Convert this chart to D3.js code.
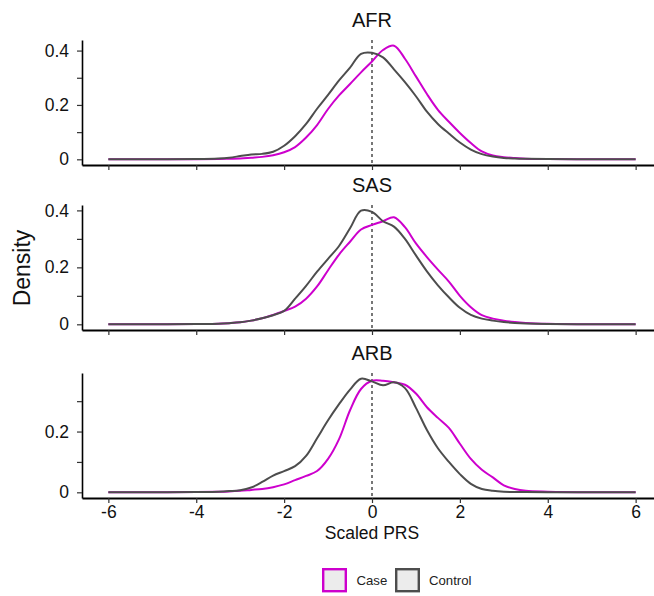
<!DOCTYPE html>
<html>
<head>
<meta charset="utf-8">
<script src="https://cdn.jsdelivr.net/npm/d3@7"></script>
<style>
  body { margin: 0; background: #ffffff; }
  svg { display: block; }
</style>
</head>
<body>
<svg id="chart" width="654" height="596"></svg>
<script>
// Shared evaluation grid for the density curves (scaled PRS)
const xGrid = [-6, -5, -4, -3.5, -3.25, -3, -2.75, -2.5, -2.25, -2, -1.75, -1.5, -1.25, -1,
  -0.75, -0.5, -0.25, 0, 0.25, 0.5, 0.75, 1, 1.25, 1.5, 1.75, 2, 2.25, 2.5, 2.75, 3,
  3.25, 3.5, 4, 5, 6];

// Density estimates per ancestry group
const afrCase = [0, 0, 0, 0.001, 0.002, 0.003, 0.006, 0.009, 0.015, 0.026, 0.045, 0.08, 0.126, 0.185,
  0.235, 0.277, 0.32, 0.36, 0.402, 0.418, 0.37, 0.305, 0.24, 0.182, 0.138, 0.097,
  0.06, 0.029, 0.014, 0.008, 0.005, 0.002, 0.001, 0, 0];
const afrControl = [0, 0, 0.001, 0.003, 0.006, 0.012, 0.018, 0.02, 0.028, 0.05, 0.085, 0.13, 0.186,
  0.237, 0.29, 0.337, 0.388, 0.392, 0.375, 0.331, 0.284, 0.232, 0.175, 0.13, 0.095,
  0.062, 0.036, 0.019, 0.01, 0.005, 0.003, 0.002, 0.001, 0, 0];

const sasCase = [0, 0, 0.001, 0.002, 0.004, 0.007, 0.013, 0.021, 0.033, 0.047, 0.062, 0.09, 0.133,
  0.19, 0.245, 0.29, 0.333, 0.349, 0.362, 0.376, 0.341, 0.284, 0.236, 0.192, 0.15,
  0.1, 0.06, 0.032, 0.02, 0.013, 0.008, 0.005, 0.002, 0, 0];
const sasControl = [0, 0, 0.001, 0.002, 0.004, 0.007, 0.013, 0.021, 0.032, 0.047, 0.09, 0.135, 0.185,
  0.23, 0.275, 0.337, 0.399, 0.395, 0.362, 0.343, 0.3, 0.242, 0.186, 0.137, 0.095,
  0.058, 0.033, 0.02, 0.013, 0.008, 0.005, 0.003, 0.001, 0, 0];

const arbCase = [0, 0, 0.001, 0.002, 0.003, 0.005, 0.008, 0.011, 0.017, 0.026, 0.04, 0.054, 0.07,
  0.11, 0.175, 0.27, 0.34, 0.367, 0.367, 0.362, 0.354, 0.325, 0.28, 0.245, 0.212,
  0.16, 0.11, 0.074, 0.049, 0.023, 0.011, 0.005, 0.002, 0, 0];
const arbControl = [0, 0, 0.001, 0.002, 0.004, 0.007, 0.016, 0.034, 0.055, 0.07, 0.086, 0.12, 0.178,
  0.237, 0.29, 0.338, 0.374, 0.365, 0.352, 0.362, 0.343, 0.278, 0.205, 0.145, 0.1,
  0.06, 0.028, 0.011, 0.005, 0.002, 0.001, 0.001, 0, 0, 0];

const panelNames = ["AFR", "SAS", "ARB"];
const seriesNames = ["Case", "Control"];
const xTicks = [-6, -4, -2, 0, 2, 4, 6];
const yTickSteps = [0, 0.1, 0.2, 0.3, 0.4];

const panelData = [
  { name: panelNames[0], case: afrCase, control: afrControl },
  { name: panelNames[1], case: sasCase, control: sasControl },
  { name: panelNames[2], case: arbCase, control: arbControl }
];

const colors = { Case: "#cd00cd", Control: "#4d4d4d" };
const FONT = "'Liberation Sans', Arial, Helvetica, sans-serif";

const svg = d3.select("#chart");
const x = d3.scaleLinear().domain([-6.6, 6.6]).range([82, 662]);
const panelTop = [40, 205, 373];
const panelH = 125;

panelData.forEach((p, i) => {
  const top = panelTop[i];
  const bottom = top + panelH;
  const M = d3.max(p.case.concat(p.control));
  const y = d3.scaleLinear().domain([-0.05 * M, 1.05 * M]).range([bottom, top]);
  const g = svg.append("g");

  // strip title
  g.append("text")
    .attr("x", (x.range()[0] + x.range()[1]) / 2)
    .attr("y", top - 20.5)
    .attr("text-anchor", "middle")
    .attr("dominant-baseline", "central")
    .attr("font-family", FONT)
    .attr("font-size", 20)
    .attr("fill", "#111")
    .text(p.name);

  // reference line at zero
  g.append("line")
    .attr("x1", x(0)).attr("x2", x(0))
    .attr("y1", top).attr("y2", bottom)
    .attr("stroke", "#555")
    .attr("stroke-width", 1.6)
    .attr("stroke-dasharray", "3,3");

  const line = d3.line()
    .x((d, j) => x(xGrid[j]))
    .y(d => y(d))
    .curve(d3.curveCatmullRom.alpha(0.5));

  g.append("path")
    .attr("d", line(p.case))
    .attr("fill", "none")
    .attr("stroke", colors.Case)
    .attr("stroke-width", 2);

  g.append("path")
    .attr("d", line(p.control))
    .attr("fill", "none")
    .attr("stroke", colors.Control)
    .attr("stroke-width", 2);

  // y axis
  const yTicks = yTickSteps.filter(t => t <= 1.05 * M);
  const yAxis = g.append("g")
    .attr("transform", "translate(82,0)")
    .call(d3.axisLeft(y)
      .tickValues(yTicks)
      .tickSize(5)
      .tickSizeOuter(0)
      .tickPadding(8)
      .tickFormat(t => (Math.round(t * 10) % 2 === 0) ? (t === 0 ? "0" : d3.format(".1f")(t)) : ""));
  yAxis.attr("font-family", FONT).attr("font-size", 17.5);
  yAxis.select(".domain").attr("stroke", "#000").attr("stroke-width", 1.6);
  yAxis.selectAll(".tick line").attr("stroke", "#333").attr("stroke-width", 1.2);
  yAxis.selectAll(".tick text").attr("fill", "#111");

  // x axis
  const isLast = i === panelData.length - 1;
  const xAxis = g.append("g")
    .attr("transform", `translate(0,${bottom})`)
    .call(d3.axisBottom(x)
      .tickValues(xTicks)
      .tickSize(5)
      .tickSizeOuter(0)
      .tickPadding(3)
      .tickFormat(t => isLast ? d3.format("d")(t).replace("\u2212", "-") : ""));
  xAxis.attr("font-family", FONT).attr("font-size", 17.5);
  xAxis.select(".domain").attr("stroke", "#000").attr("stroke-width", 2);
  xAxis.selectAll(".tick line").attr("stroke", "#333").attr("stroke-width", 1.2);
  xAxis.selectAll(".tick text").attr("fill", "#111");
});

// axis titles
svg.append("text")
  .attr("x", 372).attr("y", 533)
  .attr("text-anchor", "middle")
  .attr("dominant-baseline", "central")
  .attr("font-family", FONT)
  .attr("font-size", 17.5)
  .attr("fill", "#111")
  .text("Scaled PRS");

svg.append("text")
  .attr("transform", "translate(22,268) rotate(-90)")
  .attr("text-anchor", "middle")
  .attr("dominant-baseline", "central")
  .attr("font-family", FONT)
  .attr("font-size", 23)
  .attr("fill", "#111")
  .text("Density");

// legend
const legendX = [322, 395];
seriesNames.forEach((s, k) => {
  const lg = svg.append("g").attr("transform", `translate(${legendX[k]},568)`);
  lg.append("rect")
    .attr("x", 1.2).attr("y", 1.2)
    .attr("width", 22.6).attr("height", 22)
    .attr("fill", "#ececec")
    .attr("stroke", colors[s])
    .attr("stroke-width", 2.4);
  lg.append("text")
    .attr("x", k === 0 ? 34.5 : 34)
    .attr("y", 12.5)
    .attr("dominant-baseline", "central")
    .attr("font-family", FONT)
    .attr("font-size", 13.2)
    .attr("fill", "#222")
    .text(s);
});
</script>
</body>
</html>
